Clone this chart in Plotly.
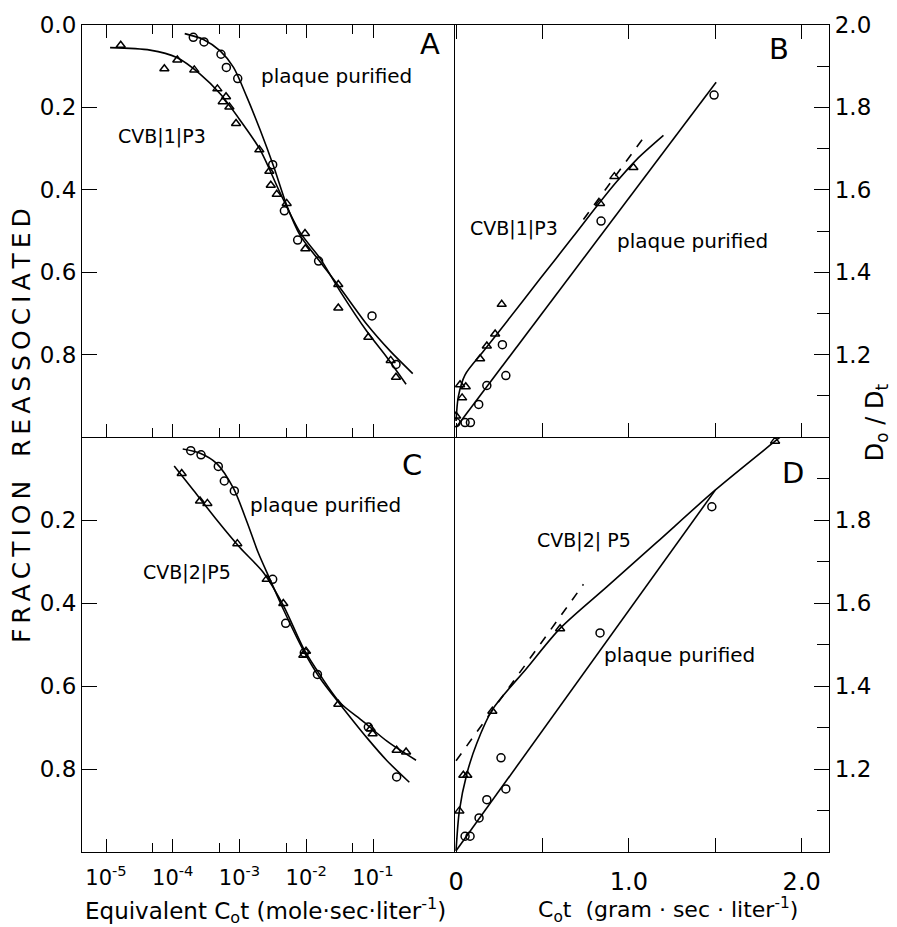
import plotly.graph_objects as go

FONT = "DejaVu Sans"

# ---------------- Panel A (log Cot, fraction reassociated) ----------------
a_circ_x = [2.03e-4, 2.94e-4, 5.28e-4, 6.35e-4, 9.40e-4, 3.14e-3, 4.70e-3, 7.43e-3, 1.53e-2, 9.66e-2, 0.221]
a_circ_y = [0.030, 0.041, 0.071, 0.103, 0.130, 0.339, 0.451, 0.522, 0.573, 0.706, 0.824]
a_tri_x = [1.66e-5, 7.48e-5, 1.17e-4, 2.10e-4, 4.66e-4, 6.28e-4, 5.60e-4, 7.05e-4, 8.87e-4, 1.98e-3,
           2.80e-3, 2.94e-3, 3.61e-3, 5.09e-3, 9.57e-3, 9.68e-3, 3.02e-2, 3.02e-2, 8.51e-2, 0.184, 0.221]
a_tri_y = [0.049, 0.106, 0.085, 0.109, 0.155, 0.174, 0.186, 0.199, 0.239, 0.303,
           0.355, 0.389, 0.411, 0.433, 0.506, 0.543, 0.630, 0.687, 0.758, 0.814, 0.855]
a_tri_fit_x = [1.15e-5, 4.57e-5, 1.15e-4, 2.57e-4, 5.13e-4, 1.02e-3, 2.04e-3, 4.07e-3, 8.13e-3,
               1.62e-2, 3.24e-2, 8.13e-2, 0.162, 0.313]
a_tri_fit_y = [0.055, 0.061, 0.079, 0.119, 0.167, 0.231, 0.303, 0.408, 0.504, 0.567, 0.647, 0.744, 0.807, 0.872]
a_circ_fit_x = [1.51e-4, 2.88e-4, 5.13e-4, 8.13e-4, 1.29e-3, 2.04e-3, 3.24e-3, 5.13e-3, 8.13e-3,
                1.62e-2, 3.24e-2, 8.13e-2, 0.180, 0.394]
a_circ_fit_y = [0.021, 0.035, 0.063, 0.103, 0.175, 0.255, 0.343, 0.439, 0.511, 0.575, 0.639, 0.727, 0.791, 0.846]

# ---------------- Panel C ----------------
c_circ_x = [1.86e-4, 2.65e-4, 4.81e-4, 5.92e-4, 8.36e-4, 3.14e-3, 4.92e-3, 9.35e-3, 1.47e-2, 8.51e-2, 0.226]
c_circ_y = [0.033, 0.043, 0.071, 0.106, 0.130, 0.343, 0.449, 0.520, 0.572, 0.699, 0.819]
c_tri_x = [1.36e-4, 2.56e-4, 3.30e-4, 9.27e-4, 2.55e-3, 4.53e-3, 9.04e-3, 9.91e-3, 3.02e-2, 9.23e-2,
           9.86e-2, 0.226, 0.313]
c_tri_y = [0.088, 0.154, 0.160, 0.257, 0.343, 0.401, 0.526, 0.516, 0.644, 0.703, 0.715, 0.755, 0.759]
c_circ_fit_x = [1.41e-4, 2.57e-4, 4.57e-4, 8.13e-4, 1.29e-3, 1.91e-3, 2.86e-3, 4.53e-3, 9.04e-3,
                1.62e-2, 3.24e-2, 8.13e-2, 0.162, 0.350]
c_circ_fit_y = [0.029, 0.039, 0.064, 0.124, 0.204, 0.279, 0.343, 0.415, 0.514, 0.582, 0.645, 0.725, 0.780, 0.832]
c_tri_fit_x = [1.05e-4, 2.04e-4, 4.57e-4, 1.02e-3, 2.29e-3, 4.57e-3, 9.12e-3, 1.62e-2, 3.24e-2,
               7.08e-2, 0.162, 0.441]
c_tri_fit_y = [0.070, 0.128, 0.200, 0.267, 0.327, 0.407, 0.510, 0.574, 0.641, 0.685, 0.733, 0.779]

# ---------------- Panel B (linear Cot, Do/Dt) ----------------
b_circ_x = [1.493, 0.839, 0.268, 0.288, 0.178, 0.131, 0.052, 0.083, 0.0]
b_circ_y = [1.830, 1.524, 1.224, 1.149, 1.125, 1.079, 1.035, 1.035, 1.035]
b_tri_x = [1.026, 0.916, 0.833, 0.264, 0.226, 0.178, 0.139, 0.056, 0.023, 0.035, 0.0]
b_tri_y = [1.654, 1.632, 1.567, 1.322, 1.250, 1.221, 1.190, 1.122, 1.127, 1.095, 1.051]
b_circ_fit_x = [0.0, 1.505]
b_circ_fit_y = [1.023, 1.861]
b_tri_fit_x = [0.0, 0.013, 0.052, 0.158, 0.293, 0.486, 0.679, 0.814, 0.930, 1.046, 1.200]
b_tri_fit_y = [1.039, 1.098, 1.151, 1.208, 1.280, 1.384, 1.487, 1.560, 1.620, 1.674, 1.732]
b_dash_x = [0.737, 1.098]
b_dash_y = [1.528, 1.734]

# ---------------- Panel D ----------------
d_circ_x = [1.480, 0.833, 0.260, 0.288, 0.178, 0.133, 0.052, 0.081]
d_circ_y = [1.832, 1.528, 1.227, 1.152, 1.126, 1.082, 1.038, 1.038]
d_tri_x = [1.846, 0.602, 0.210, 0.042, 0.065, 0.019]
d_tri_y = [1.990, 1.538, 1.339, 1.185, 1.185, 1.099]
d_circ_fit_x = [0.0, 1.50]
d_circ_fit_y = [1.003, 1.872]
d_tri_fit_x = [0.0, 0.019, 0.062, 0.120, 0.210, 0.409, 0.602, 0.872, 1.161, 1.499, 1.846, 1.875]
d_tri_fit_y = [1.003, 1.099, 1.188, 1.262, 1.343, 1.443, 1.539, 1.639, 1.746, 1.872, 1.990, 2.0]
d_dash_x = [0.0, 0.737]
d_dash_y = [1.220, 1.645]

log_ticks = [1e-5, 1e-4, 1e-3, 1e-2, 1e-1]
log_labels = ["10<sup>-5</sup>", "10<sup>-4</sup>", "10<sup>-3</sup>", "10<sup>-2</sup>", "10<sup>-1</sup>"]
log_minor = [5e-5, 5e-4, 5e-3, 5e-2]
lin_ticks = [0, 0.5, 1.0, 1.5, 2.0]
lin_labels = ["0", "", "1.0", "", "2.0"]
frac_ticks_a = [0.0, 0.2, 0.4, 0.6, 0.8]
frac_ticks_c = [0.2, 0.4, 0.6, 0.8]
d_ticks_b = [1.2, 1.4, 1.6, 1.8, 2.0]
d_ticks_d = [1.2, 1.4, 1.6, 1.8]
d_minor = [1.1, 1.3, 1.5, 1.7, 1.9]

W, H = 897, 927
L, R, T, B = 82, 829, 17, 852
MID_X, MID_Y = 454, 433


def px(xp, yp):
    return (xp - L) / (R - L), (B - yp) / (B - T)


xs = px(MID_X, 0)[0]
ys = px(0, MID_Y)[1]

fig = go.Figure()
K = "black"


def markers(x, y, sym, size, xa, ya):
    fig.add_trace(go.Scatter(x=x, y=y, mode="markers", xaxis=xa, yaxis=ya,
                             marker=dict(symbol=sym, size=size, color=K, line=dict(color=K, width=1.5)),
                             showlegend=False, hoverinfo="skip"))


def curve(x, y, xa, ya, dash="solid", shape="spline"):
    fig.add_trace(go.Scatter(x=x, y=y, mode="lines", xaxis=xa, yaxis=ya,
                             line=dict(color=K, width=1.6, dash=dash, shape=shape, smoothing=0.8),
                             showlegend=False, hoverinfo="skip"))


# A
curve(a_tri_fit_x, a_tri_fit_y, "x", "y")
curve(a_circ_fit_x, a_circ_fit_y, "x", "y")
markers(a_circ_x, a_circ_y, "circle-open", 8, "x", "y")
markers(a_tri_x, a_tri_y, "triangle-up-open", 8, "x", "y")
# B
curve(b_circ_fit_x, b_circ_fit_y, "x2", "y2", shape="linear")
curve(b_tri_fit_x, b_tri_fit_y, "x2", "y2")
curve(b_dash_x, b_dash_y, "x2", "y2", dash="dash", shape="linear")
markers(b_circ_x, b_circ_y, "circle-open", 8, "x2", "y2")
markers(b_tri_x, b_tri_y, "triangle-up-open", 8, "x2", "y2")
# C
curve(c_tri_fit_x, c_tri_fit_y, "x3", "y3")
curve(c_circ_fit_x, c_circ_fit_y, "x3", "y3")
markers(c_circ_x, c_circ_y, "circle-open", 8, "x3", "y3")
markers(c_tri_x, c_tri_y, "triangle-up-open", 8, "x3", "y3")
# D
curve(d_circ_fit_x, d_circ_fit_y, "x4", "y4", shape="linear")
curve(d_tri_fit_x, d_tri_fit_y, "x4", "y4")
curve(d_dash_x, d_dash_y, "x4", "y4", dash="dash", shape="linear")
markers(d_circ_x, d_circ_y, "circle-open", 8, "x4", "y4")
markers(d_tri_x, d_tri_y, "triangle-up-open", 8, "x4", "y4")

common = dict(showline=True, linecolor=K, linewidth=1.2, ticks="inside", tickcolor=K,
              tickwidth=1.3, showgrid=False, zeroline=False, tickfont=dict(family=FONT, size=23, color=K))

log_range = [-5.36, 0.2135]
lin_range = [-0.012, 2.158]

fig.update_layout(
    width=W, height=H, paper_bgcolor="white", plot_bgcolor="white",
    margin=dict(l=L, r=W - R, t=T, b=H - B),
    font=dict(family=FONT, color=K),
    xaxis=dict(common, domain=[0, xs], anchor="y", type="log", range=log_range,
               tickmode="array", tickvals=log_ticks, ticklen=13, mirror="ticks", showticklabels=False,
               minor=dict(tickmode="array", tickvals=log_minor, ticklen=9, ticks="inside",
                          tickcolor=K, tickwidth=1.3, showgrid=False)),
    yaxis=dict(common, domain=[ys, 1], anchor="x", range=[1.0, 0.0],
               tickmode="array", tickvals=frac_ticks_a, ticktext=["%.1f" % v for v in frac_ticks_a],
               ticklen=15, mirror=True),
    xaxis2=dict(common, domain=[xs, 1], anchor="y2", range=lin_range,
                tickmode="array", tickvals=lin_ticks, ticklen=14, mirror="ticks", showticklabels=False),
    yaxis2=dict(common, domain=[ys, 1], anchor="x2", side="right", range=[1.0, 2.0],
                tickmode="array", tickvals=d_ticks_b, ticktext=["%.1f" % v for v in d_ticks_b],
                ticklen=15, mirror=False,
                minor=dict(tickmode="array", tickvals=d_minor, ticklen=12, ticks="inside",
                           tickcolor=K, tickwidth=1.3, showgrid=False)),
    xaxis3=dict(common, domain=[0, xs], anchor="y3", type="log", range=log_range,
                tickmode="array", tickvals=log_ticks, ticktext=log_labels, ticklen=13, mirror=False,
                tickfont=dict(family=FONT, size=21, color=K), ticklabelstandoff=7,
                minor=dict(tickmode="array", tickvals=log_minor, ticklen=9, ticks="inside",
                           tickcolor=K, tickwidth=1.3, showgrid=False)),
    yaxis3=dict(common, domain=[0, ys], anchor="x3", range=[1.0, 0.0],
                tickmode="array", tickvals=frac_ticks_c, ticktext=["%.1f" % v for v in frac_ticks_c],
                ticklen=15, mirror=True),
    xaxis4=dict(common, domain=[xs, 1], anchor="y4", range=lin_range,
                tickmode="array", tickvals=lin_ticks, ticktext=lin_labels, ticklen=14, mirror=False,
                tickfont=dict(family=FONT, size=24, color=K), ticklabelstandoff=8),
    yaxis4=dict(common, domain=[0, ys], anchor="x4", side="right", range=[1.0, 2.0],
                tickmode="array", tickvals=d_ticks_d, ticktext=["%.1f" % v for v in d_ticks_d],
                ticklen=15, mirror=False,
                minor=dict(tickmode="array", tickvals=d_minor, ticklen=12, ticks="inside",
                           tickcolor=K, tickwidth=1.3, showgrid=False)),
)


def text(t, xp, yp, size, angle=0):
    x, y = px(xp, yp)
    fig.add_annotation(text=t, x=x, y=y, xref="paper", yref="paper", showarrow=False,
                       xanchor="center", yanchor="middle", textangle=angle,
                       font=dict(family=FONT, size=size, color=K))


text("plaque purified", 336, 68, 20)
text("CVB|1|P3", 162, 130, 19)
text("A", 430, 36, 29)
text("CVB|1|P3", 514, 222, 19)
text("plaque purified", 692, 235, 20)
text("B", 779, 41, 29)
text("plaque purified", 325, 502, 20)
text("CVB|2|P5", 187, 570, 19)
text("C", 412, 461, 29)
text("CVB|2| P5", 584, 537, 19)
text("plaque purified", 679, 653, 20)
text("D", 793, 469, 29)

ts = "\u2009"
title_left = ts.join("FRACTION") + "   " + ts.join("REASSOCIATED")
text(title_left, 21, 422, 25, angle=-90)
text("D<sub>o</sub> / D<sub>t</sub>", 876, 418, 24, angle=-90)
text("Equivalent C<sub>o</sub>t (mole·sec·liter<sup>-1</sup>)", 265, 911, 23)
text("C<sub>o</sub>t  (gram · sec · liter<sup>-1</sup>)", 668, 911, 22)

fig.write_html("out.html")
